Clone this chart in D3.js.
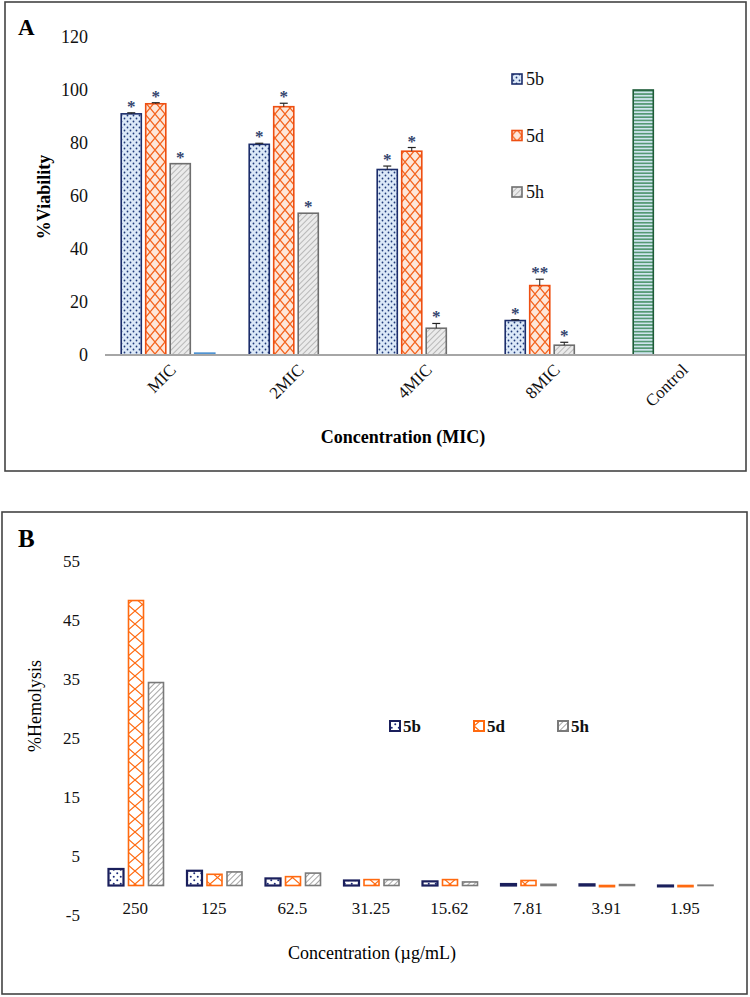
<!DOCTYPE html>
<html>
<head>
<meta charset="utf-8">
<script src="https://cdn.jsdelivr.net/npm/d3@7"></script>
<style>
  body { margin: 0; background: #fff; }
  svg text { font-family: "Liberation Serif", "Times New Roman", serif; }
</style>
</head>
<body>
<div id="chart"></div>
<script>
// panel A data: % viability
var catsA = ["MIC", "2MIC", "4MIC", "8MIC", "Control"];
var via5b = [91, 79.5, 70, 13, null];
var via5d = [94.8, 93.7, 76.9, 26.2, null];
var via5h = [72.2, 53.5, 10.1, 3.7, null];
var viaCtrl = [0.7, null, null, null, 100];
var err5b = [0.4, 0.4, 1.3, 0.3, null];
var err5d = [0.4, 1.3, 1.4, 2.4, null];
var err5h = [0, 0, 1.8, 1.1, null];
var star5b = ["*", "*", "*", "*", ""];
var star5d = ["*", "*", "*", "**", ""];
var star5h = ["*", "*", "*", "*", ""];
var ticksA = [0, 20, 40, 60, 80, 100, 120];

// panel B data: % hemolysis
var catsB = ["250", "125", "62.5", "31.25", "15.62", "7.81", "3.91", "1.95"];
var hem5b = [2.8, 2.5, 1.2, 0.85, 0.7, 0.25, 0.2, -0.15];
var hem5d = [48.3, 1.9, 1.5, 1.0, 1.0, 0.85, -0.2, -0.2];
var hem5h = [34.4, 2.3, 2.1, 1.0, 0.6, 0.2, 0.15, 0.05];
var ticksB = [-5, 5, 15, 25, 35, 45, 55];

var SERIF = '"Liberation Serif", "Times New Roman", serif';

var svg = d3.select("#chart").append("svg")
    .attr("width", 750)
    .attr("height", 997)
    .style("font-family", SERIF);

var defs = svg.append("defs");

// --- patterns ---
function dots(id, bg, col, size, r) {
    var p = defs.append("pattern").attr("id", id)
        .attr("patternUnits", "userSpaceOnUse")
        .attr("width", size).attr("height", size);
    p.append("rect").attr("width", size).attr("height", size).attr("fill", bg);
    p.append("circle").attr("cx", size * 0.25).attr("cy", size * 0.25).attr("r", r).attr("fill", col);
    p.append("circle").attr("cx", size * 0.75).attr("cy", size * 0.75).attr("r", r).attr("fill", col);
}
function cross(id, bg, col, w, h, sw) {
    var p = defs.append("pattern").attr("id", id)
        .attr("patternUnits", "userSpaceOnUse")
        .attr("width", w).attr("height", h);
    p.append("rect").attr("width", w).attr("height", h).attr("fill", bg);
    p.append("path").attr("d", "M0,0L" + w + "," + h + "M" + w + ",0L0," + h)
        .attr("stroke", col).attr("stroke-width", sw);
}
function diag(id, bg, col, s, sw) {
    var p = defs.append("pattern").attr("id", id)
        .attr("patternUnits", "userSpaceOnUse")
        .attr("width", s).attr("height", s)
        .attr("patternTransform", "rotate(45)");
    p.append("rect").attr("width", s).attr("height", s).attr("fill", bg);
    p.append("line").attr("x1", 0).attr("y1", 0).attr("x2", 0).attr("y2", s)
        .attr("stroke", col).attr("stroke-width", sw);
}
function horiz(id, bg, col, s, sw) {
    var p = defs.append("pattern").attr("id", id)
        .attr("patternUnits", "userSpaceOnUse")
        .attr("width", s).attr("height", s);
    p.append("rect").attr("width", s).attr("height", s).attr("fill", bg);
    p.append("line").attr("x1", 0).attr("y1", s / 2).attr("x2", s).attr("y2", s / 2)
        .attr("stroke", col).attr("stroke-width", sw);
}

dots("pA5b", "#dce9f8", "#1f3a7a", 6, 0.9);
cross("pA5d", "#fde7da", "#f4641e", 10, 12, 1.3);
diag("pA5h", "#ebebeb", "#9c9c9c", 4, 1.3);
horiz("pACtrl", "#cfe4ee", "#3f8c5e", 3.3, 1.4);
dots("pB5b", "#ffffff", "#1b2a78", 7, 1);
cross("pB5d", "#ffffff", "#ff6a10", 15, 13, 1.2);
diag("pB5h", "#ffffff", "#808080", 4, 1.4);

// frames
svg.append("rect").attr("x", 5).attr("y", 2).attr("width", 741).attr("height", 469)
    .attr("fill", "none").attr("stroke", "#444").attr("stroke-width", 1.6);
svg.append("rect").attr("x", 2).attr("y", 512).attr("width", 745).attr("height", 482)
    .attr("fill", "none").attr("stroke", "#444").attr("stroke-width", 1.6);

// ================= panel A =================
var seriesA = [
    { name: "5b", vals: via5b, err: err5b, star: star5b, fill: "url(#pA5b)", stroke: "#1c2d6b" },
    { name: "5d", vals: via5d, err: err5d, star: star5d, fill: "url(#pA5d)", stroke: "#ee4f12" },
    { name: "5h", vals: via5h, err: err5h, star: star5h, fill: "url(#pA5h)", stroke: "#6e6e6e" },
    { name: "Control", vals: viaCtrl, err: null, star: null, fill: "url(#pACtrl)", stroke: "#1d5b38" }
];

var xA = d3.scaleBand().domain(catsA).range([105, 745]);
var subA = d3.scaleBand().domain([0, 1, 2, 3]).range([14, 112]).paddingInner(0.18).paddingOuter(0.09);
var yA = d3.scaleLinear().domain([0, 120]).range([355, 37]);

// bars: slot = position among the series that have a value in that category
var barsA = [];
catsA.forEach(function (c, i) {
    var slot = 0;
    seriesA.forEach(function (s) {
        if (s.vals[i] == null) return;
        barsA.push({ cat: c, i: i, slot: slot, s: s, v: s.vals[i] });
        slot++;
    });
});

var gA = svg.append("g");

gA.append("g")
    .attr("transform", "translate(105,0)")
    .call(d3.axisLeft(yA).tickValues(ticksA).tickSize(0).tickPadding(17)
        .tickFormat(function (d) { return String(d); }))
    .attr("font-family", SERIF)
    .call(function (g) { g.select(".domain").remove(); })
    .selectAll("text")
    .attr("font-size", 18)
    .attr("fill", "#111");

gA.selectAll(".barA")
    .data(barsA)
    .enter().append("rect")
    .attr("class", "barA")
    .attr("x", function (d) { return xA(d.cat) + subA(d.slot); })
    .attr("width", subA.bandwidth())
    .attr("y", function (d) { return yA(d.v); })
    .attr("height", function (d) { return yA(0) - yA(d.v); })
    .attr("fill", function (d) { return d.s.fill; })
    .attr("stroke", function (d) { return d.v < 2 ? "#4a8fd0" : d.s.stroke; })
    .attr("stroke-width", 1.6);

// error bars
var errA = barsA.filter(function (d) { return d.s.err && d.s.err[d.i] > 0; });
errA.forEach(function (d) {
    var cx = xA(d.cat) + subA(d.slot) + subA.bandwidth() / 2;
    var top = yA(d.v + d.s.err[d.i]);
    gA.append("line").attr("x1", cx).attr("x2", cx).attr("y1", yA(d.v)).attr("y2", top)
        .attr("stroke", "#222").attr("stroke-width", 1);
    gA.append("line").attr("x1", cx - 4).attr("x2", cx + 4).attr("y1", top).attr("y2", top)
        .attr("stroke", "#222").attr("stroke-width", 1.2);
});

// significance stars
gA.selectAll(".star")
    .data(barsA.filter(function (d) { return d.s.star && d.s.star[d.i]; }))
    .enter().append("text")
    .attr("class", "star")
    .attr("x", function (d) { return xA(d.cat) + subA(d.slot) + subA.bandwidth() / 2; })
    .attr("y", function (d) { return yA(d.v + (d.s.err[d.i] || 0)) - 1; })
    .attr("text-anchor", "middle")
    .attr("font-size", 17)
    .attr("font-weight", "bold")
    .attr("fill", "#34456e")
    .text(function (d) { return d.s.star[d.i]; });

// x axis line
gA.append("line").attr("x1", 105).attr("x2", 745).attr("y1", yA(0)).attr("y2", yA(0))
    .attr("stroke", "#a6a6a6").attr("stroke-width", 2);

// rotated category labels
gA.selectAll(".catA")
    .data(catsA)
    .enter().append("text")
    .attr("class", "catA")
    .attr("transform", function (d) {
        return "translate(" + (xA(d) + xA.bandwidth() / 2 + 8) + ",371) rotate(-45)";
    })
    .attr("text-anchor", "end")
    .attr("font-size", 17)
    .attr("fill", "#111")
    .text(function (d) { return d; });

// legend A (vertical)
var legA = gA.selectAll(".legA")
    .data(seriesA.slice(0, 3))
    .enter().append("g")
    .attr("transform", function (d, i) { return "translate(512," + (79 + i * 56.5) + ")"; });
legA.append("rect").attr("x", 0).attr("y", -5).attr("width", 10).attr("height", 10)
    .attr("fill", function (d) { return d.fill; })
    .attr("stroke", function (d) { return d.stroke; }).attr("stroke-width", 1.6);
legA.append("text").attr("x", 14).attr("y", 6).attr("font-size", 18).attr("fill", "#111")
    .text(function (d) { return d.name; });

// titles A
gA.append("text").attr("x", 18).attr("y", 35).attr("font-size", 23).attr("font-weight", "bold")
    .text("A");
gA.append("text").attr("transform", "translate(50,197) rotate(-90)")
    .attr("text-anchor", "middle").attr("font-size", 18).attr("font-weight", "bold")
    .text("%Viability");
gA.append("text").attr("x", 403).attr("y", 443)
    .attr("text-anchor", "middle").attr("font-size", 18).attr("font-weight", "bold")
    .text("Concentration (MIC)");

// ================= panel B =================
var seriesB = [
    { name: "5b", vals: hem5b, fill: "url(#pB5b)", stroke: "#1a1f5c", sw: 2.2 },
    { name: "5d", vals: hem5d, fill: "url(#pB5d)", stroke: "#ff6a10", sw: 1.6 },
    { name: "5h", vals: hem5h, fill: "url(#pB5h)", stroke: "#7a7a7a", sw: 1.6 }
];

var xB = d3.scaleBand().domain(catsB).range([96, 724]);
var subB = d3.scaleBand().domain([0, 1, 2]).range([10, 70]).paddingInner(0.25).paddingOuter(0.125);
var yB = d3.scaleLinear().domain([-5, 55]).range([915, 561]);

var gB = svg.append("g");

gB.append("g")
    .attr("transform", "translate(96,0)")
    .call(d3.axisLeft(yB).tickValues(ticksB).tickSize(0).tickPadding(16)
        .tickFormat(function (d) { return String(d); }))
    .attr("font-family", SERIF)
    .call(function (g) { g.select(".domain").remove(); })
    .selectAll("text")
    .attr("font-size", 17)
    .attr("fill", "#111");

var barsB = [];
catsB.forEach(function (c, i) {
    seriesB.forEach(function (s, k) {
        barsB.push({ cat: c, k: k, s: s, v: s.vals[i] });
    });
});

gB.selectAll(".barB")
    .data(barsB)
    .enter().append("rect")
    .attr("class", "barB")
    .attr("x", function (d) { return xB(d.cat) + subB(d.k); })
    .attr("width", subB.bandwidth())
    .attr("y", function (d) { return yB(Math.max(0, d.v)); })
    .attr("height", function (d) { return Math.abs(yB(d.v) - yB(0)); })
    .attr("fill", function (d) { return d.s.fill; })
    .attr("stroke", function (d) { return d.s.stroke; })
    .attr("stroke-width", function (d) { return d.s.sw; });

gB.selectAll(".catB")
    .data(catsB)
    .enter().append("text")
    .attr("class", "catB")
    .attr("x", function (d) { return xB(d) + xB.bandwidth() / 2; })
    .attr("y", 914)
    .attr("text-anchor", "middle")
    .attr("font-size", 17)
    .attr("fill", "#111")
    .text(function (d) { return d; });

// legend B (horizontal)
var legB = gB.selectAll(".legB")
    .data(seriesB)
    .enter().append("g")
    .attr("transform", function (d, i) { return "translate(" + (390 + i * 84) + ",726)"; });
legB.append("rect").attr("x", 0).attr("y", -5).attr("width", 10).attr("height", 10)
    .attr("fill", function (d) { return d.fill; })
    .attr("stroke", function (d) { return d.stroke; }).attr("stroke-width", 2);
legB.append("text").attr("x", 13).attr("y", 6).attr("font-size", 17).attr("font-weight", "bold")
    .attr("fill", "#111")
    .text(function (d) { return d.name; });

gB.append("text").attr("x", 18).attr("y", 547).attr("font-size", 25).attr("font-weight", "bold")
    .text("B");
gB.append("text").attr("transform", "translate(41,706) rotate(-90)")
    .attr("text-anchor", "middle").attr("font-size", 18)
    .text("%Hemolysis");
gB.append("text").attr("x", 372).attr("y", 959)
    .attr("text-anchor", "middle").attr("font-size", 18)
    .text("Concentration (µg/mL)");

// make sure every label uses the serif face
svg.selectAll("text").style("font-family", SERIF);
</script>
</body>
</html>
